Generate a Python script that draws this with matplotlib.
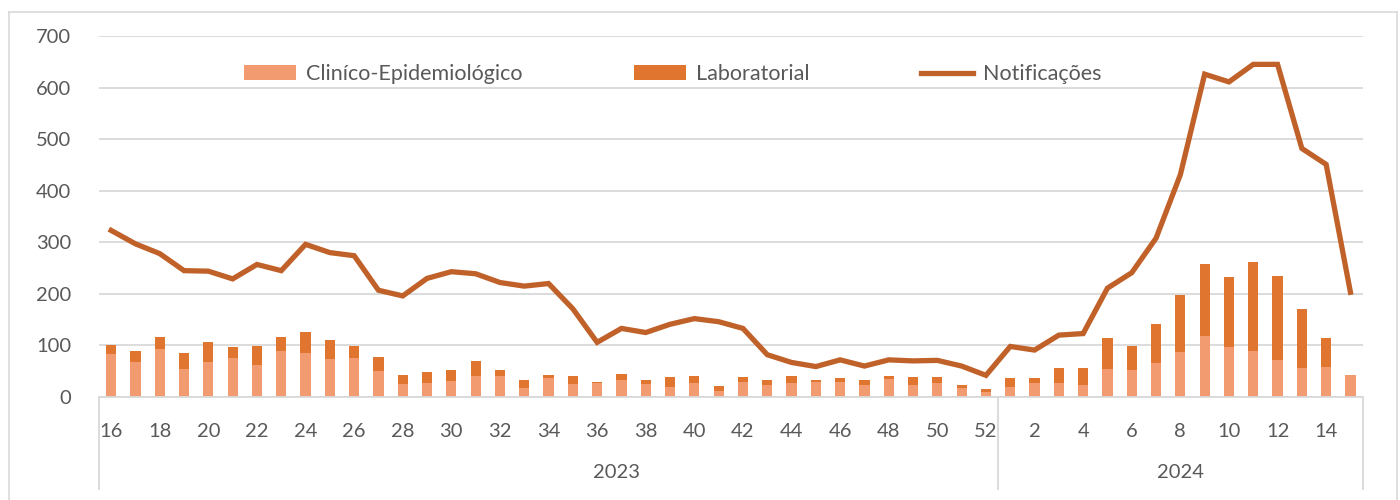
import matplotlib
matplotlib.use("Agg")
import matplotlib.pyplot as plt
import matplotlib.transforms as mtransforms
from matplotlib.lines import Line2D
import numpy as np

plt.rcParams['font.family'] = ['Lato', 'DejaVu Sans']

weeks_2023 = list(range(16, 53))
weeks_2024 = list(range(1, 16))
years = ["2023", "2024"]

clinico = [84, 68, 93, 55, 67, 75, 63, 89, 86, 73, 75, 51, 25, 27, 31, 41, 40, 18, 36,
           25, 27, 33, 25, 20, 27, 12, 29, 23, 27, 29, 29, 23, 35, 23, 27, 18, 10,
           19, 27, 27, 23, 54, 52, 66, 88, 119, 96, 89, 72, 56, 58, 43]
laboratorial = [17, 21, 23, 30, 40, 22, 36, 28, 41, 38, 24, 26, 17, 21, 22, 29, 12, 15, 6,
                16, 2, 12, 7, 19, 14, 9, 10, 9, 14, 4, 7, 9, 6, 16, 12, 5, 6,
                17, 9, 29, 33, 60, 47, 75, 110, 138, 136, 173, 162, 115, 57, 0]
notificacoes = [323, 297, 278, 245, 244, 229, 257, 245, 296, 280, 274, 207, 196, 230, 243,
                239, 222, 215, 220, 171, 106, 133, 125, 141, 152, 146, 133, 82, 67, 59, 72,
                60, 72, 70, 71, 60, 42,
                98, 91, 120, 123, 211, 241, 308, 431, 626, 611, 645, 645, 482, 451, 203]

week_labels = [str(w) for w in weeks_2023 + weeks_2024]
n = len(week_labels)
x = np.arange(n)

C_CLIN = "#F29B70"
C_LAB = "#E0752F"
C_LINE = "#C1612A"
C_TEXT = "#595959"
C_GRID = "#D9D9D9"

W, H = 1400, 500
fig = plt.figure(figsize=(14, 5), dpi=100)
ax = fig.add_axes([99 / W, 1 - 397 / H, (1362.6 - 99) / W, (397 - 36) / H])

b1 = ax.bar(x, clinico, width=0.42, color=C_CLIN, zorder=2, label="Cliníco-Epidemiológico")
b2 = ax.bar(x, laboratorial, width=0.42, bottom=clinico, color=C_LAB, zorder=2, label="Laboratorial")
l1, = ax.plot(x, notificacoes, color=C_LINE, lw=3.8, solid_joinstyle='miter', zorder=3,
              label="Notificações")

ax.set_xlim(-0.5, n - 0.5)
ax.set_ylim(0, 700)
ax.set_yticks(np.arange(0, 701, 100))
ax.yaxis.grid(True, color=C_GRID, lw=1.3, zorder=0)
ax.set_axisbelow(True)
for s in ['top', 'right', 'left']:
    ax.spines[s].set_visible(False)
ax.spines['bottom'].set_color(C_GRID)
ax.spines['bottom'].set_linewidth(1.3)

ax.set_xticks(x[::2])
ax.set_xticklabels(week_labels[::2])
ax.tick_params(axis='both', length=0, labelsize=14.5, colors=C_TEXT)
ax.tick_params(axis='x', pad=19)
ax.tick_params(axis='y', pad=20)

# year grouping
trans = mtransforms.blended_transform_factory(ax.transData, ax.transAxes)
n23 = len(weeks_2023)
seps = [-0.5, n23 - 0.5, n - 0.5]
for sx in seps:
    ax.add_line(Line2D([sx, sx], [0, -(489 - 397) / 361], transform=trans,
                       color=C_GRID, lw=1.3, clip_on=False))
year_pos = [20.8, (n23 + n - 1) / 2]
for yp, yl in zip(year_pos, years):
    ax.text(yp, -(472 - 397) / 361, yl, transform=trans, ha='center', va='center',
            fontsize=14.5, color=C_TEXT)

leg = ax.legend(handles=[b1, b2, l1],
                loc='center left', bbox_to_anchor=((243 - 99) / 1263.6 - 0.0062, (397 - 74) / 361),
                ncol=3, frameon=False, fontsize=15.5, handlelength=2.42, handleheight=0.65,
                handletextpad=0.45, columnspacing=5.2, labelcolor=C_TEXT, borderaxespad=0)

# chart border
for xs, ys in [([9, 9], [500, 12]), ([9, 1397], [12, 12]), ([1397, 1397], [12, 500])]:
    fig.add_artist(Line2D([v / W for v in xs], [1 - v / H for v in ys], color=C_GRID, lw=1.2))

fig.savefig("out.png", dpi=100)
